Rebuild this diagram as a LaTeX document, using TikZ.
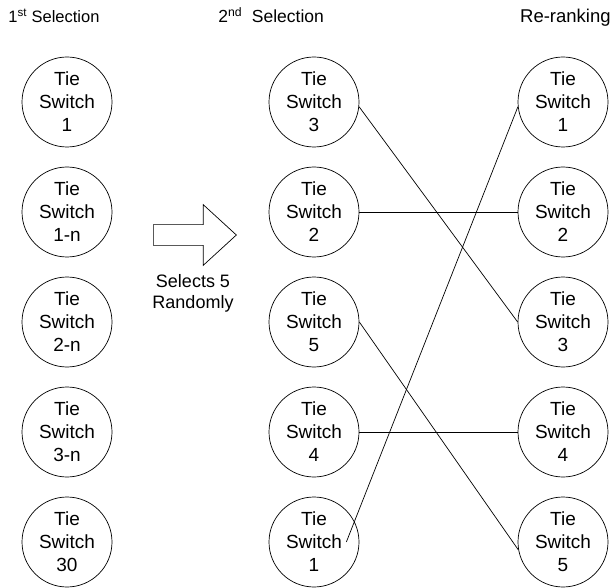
\documentclass[tikz,border=0pt]{standalone}
\usepackage{fontspec}
\setmainfont{Liberation Sans}
\usepackage{tikz}
\usetikzlibrary{shapes,arrows,calc}
\tikzset{
    switch/.style = {draw, circle, 
        minimum size=90pt, inner sep=0pt,
        align=center, font=\fontsize{19}{23}\selectfont},
    heading/.style = {anchor=base west, inner sep=0pt,
        font=\fontsize{17.5}{21}\selectfont},
    bigarrow/.style = {draw, single arrow, inner sep=0pt,
        text height=10pt, text depth=10pt,
        minimum height=83pt, single arrow head extend=20pt,
        single arrow tip angle=85},
    link/.style = {draw, -}
}

\begin{document}
\begin{tikzpicture}[x=1pt, y=1pt, node distance=110pt, line width=0.7pt]
    \useasboundingbox (0,0) rectangle (613,-588);
    % headings
    \node [heading, font=\fontsize{16.5}{20}\selectfont] (head1) at (8,-23) {1\textsuperscript{st} Selection};
    \node [heading] (head2) at (218,-23) {2\textsuperscript{nd}\ \ Selection};
    \node [heading, anchor=base east, font=\fontsize{18.5}{22}\selectfont] (head3) at (611,-23) {Re-ranking};
    % first selection
    \node [switch] (a1) at (67,-102) {Tie\\Switch\\1};
    \node [switch, below of=a1] (a2) {Tie\\Switch\\1-n};
    \node [switch, below of=a2] (a3) {Tie\\Switch\\2-n};
    \node [switch, below of=a3] (a4) {Tie\\Switch\\3-n};
    \node [switch, below of=a4] (a5) {Tie\\Switch\\30};
    % random pick
    \node [bigarrow, anchor=tail] (pick) at (153,-235) {};
    \node [align=center, font=\fontsize{18}{21}\selectfont] (picktext) at (193,-293) {Selects 5\\Randomly};
    % second selection
    \node [switch, right of=a1, node distance=247pt] (b1) {Tie\\Switch\\3};
    \node [switch, below of=b1] (b2) {Tie\\Switch\\2};
    \node [switch, below of=b2] (b3) {Tie\\Switch\\5};
    \node [switch, below of=b3] (b4) {Tie\\Switch\\4};
    \node [switch, below of=b4] (b5) {Tie\\Switch\\1};
    % re-ranking
    \node [switch, right of=b1, node distance=249pt] (c1) {Tie\\Switch\\1};
    \node [switch, below of=c1] (c2) {Tie\\Switch\\2};
    \node [switch, below of=c2] (c3) {Tie\\Switch\\3};
    \node [switch, below of=c3] (c4) {Tie\\Switch\\4};
    \node [switch, below of=c4] (c5) {Tie\\Switch\\5};
    \draw [link] (b1.-6) -- (c3.west);
    \draw [link] (b2.east) -- (c2.west);
    \draw [link] (b3.east) -- (c5.190);
    \draw [link] (b4.east) -- (c4.west);
    \draw [link] ([xshift=-13pt]b5.east) -- (c1.186);
\end{tikzpicture}
\end{document}
